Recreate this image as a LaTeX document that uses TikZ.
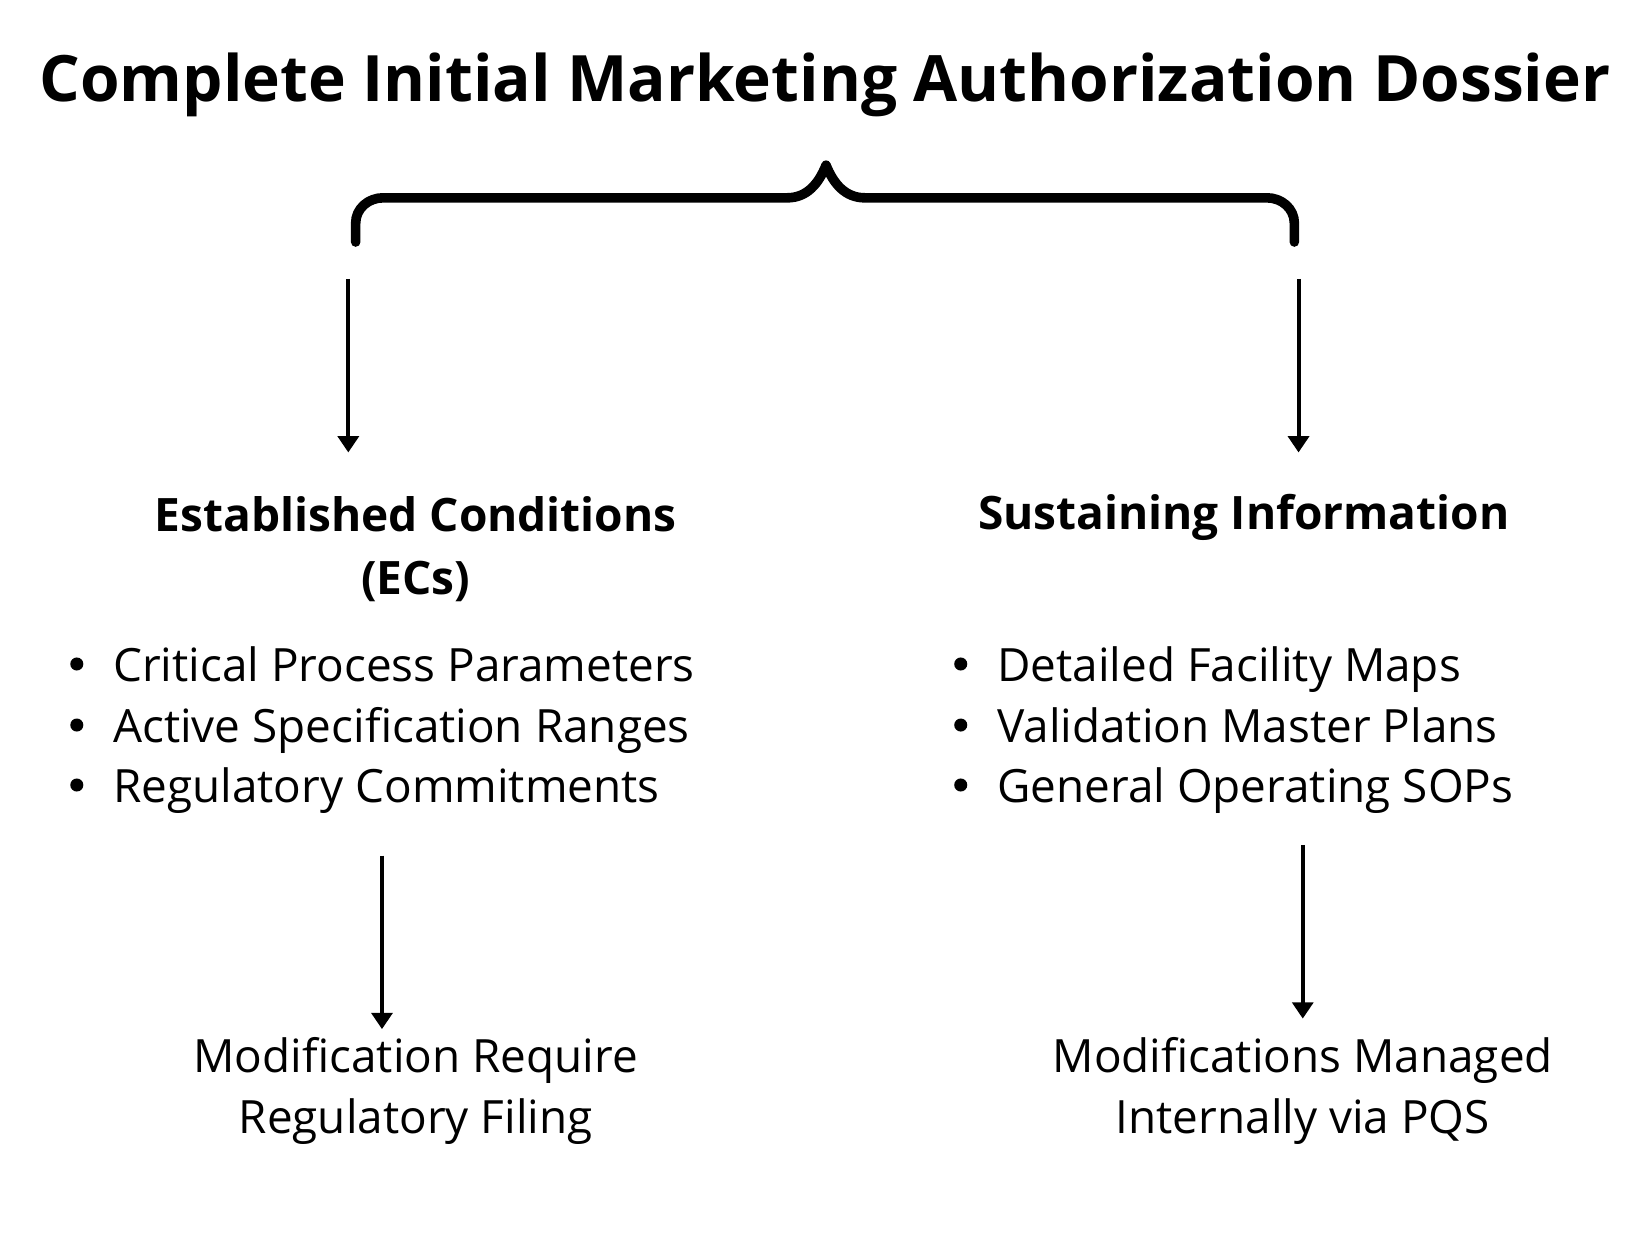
\documentclass[tikz,border=0pt]{standalone}
\usepackage{fontspec}
\setmainfont{Open Sans}
\usetikzlibrary{arrows.meta}
\tikzset{
    titletext/.style={font=\fontsize{17.3}{20}\selectfont\bfseries},
    headtext/.style={font=\fontsize{12.45}{17}\selectfont\bfseries, align=center},
    listtext/.style={font=\fontsize{12.4}{16.3}\selectfont, align=left, anchor=west, inner sep=0pt},
    resulttext/.style={font=\fontsize{12.4}{16.5}\selectfont, align=center},
    flow/.style={line width=1.1pt, -{Triangle[width=5.6pt,length=4.4pt]}}
}
\begin{document}
\begin{tikzpicture}
        \useasboundingbox (0,0) rectangle (15.68,-11.76);
        \node[titletext] (title) at (7.84,-0.81) {Complete Initial Marketing Authorization Dossier};
        \draw[line width=2.6pt, line cap=round, line join=round] (3.38,-2.30) -- (3.38,-2.12)
        to [out=90,in=180] (3.64,-1.88) -- (7.48,-1.88)
        to [out=0,in=-112] (7.85,-1.57)
        to [out=-68,in=180] (8.22,-1.88) -- (12.04,-1.88)
        to [out=0,in=90] (12.30,-2.12) -- (12.30,-2.30);
        \node[headtext] (ecHead) at (3.95,-5.22) {Established Conditions\\(ECs)};
        \node[headtext] (siHead) at (11.82,-4.92) {Sustaining Information};
        \node[listtext] (ecList) at (1.07,-6.94) {Critical Process Parameters\\Active Specification Ranges\\Regulatory Commitments};
        \node[listtext] (siList) at (9.47,-6.94) {Detailed Facility Maps\\Validation Master Plans\\General Operating SOPs};
        \foreach \y in {-6.31,-6.89,-7.46} {
            \fill (0.73,\y) circle[radius=0.062];
            \fill (9.13,\y) circle[radius=0.062];
        }
        \node[resulttext] (ecResult) at (3.95,-10.37) {Modification Require\\Regulatory Filing};
        \node[resulttext] (siResult) at (12.38,-10.37) {Modifications Managed\\Internally via PQS};
        \coordinate (ecIn) at (3.31,-2.65);
        \coordinate (ecAt) at (3.31,-4.30);
        \coordinate (siIn) at (12.34,-2.65);
        \coordinate (siAt) at (12.34,-4.30);
        \coordinate (ecOut) at (3.63,-8.13);
        \coordinate (ecTo) at (3.63,-9.78);
        \coordinate (siOut) at (12.38,-8.03);
        \coordinate (siTo) at (12.38,-9.68);
        \draw[flow] (ecIn) -- (ecAt);
        \draw[flow] (siIn) -- (siAt);
        \draw[flow] (ecOut) -- (ecTo);
        \draw[flow] (siOut) -- (siTo);
    \end{tikzpicture}
\end{document}
